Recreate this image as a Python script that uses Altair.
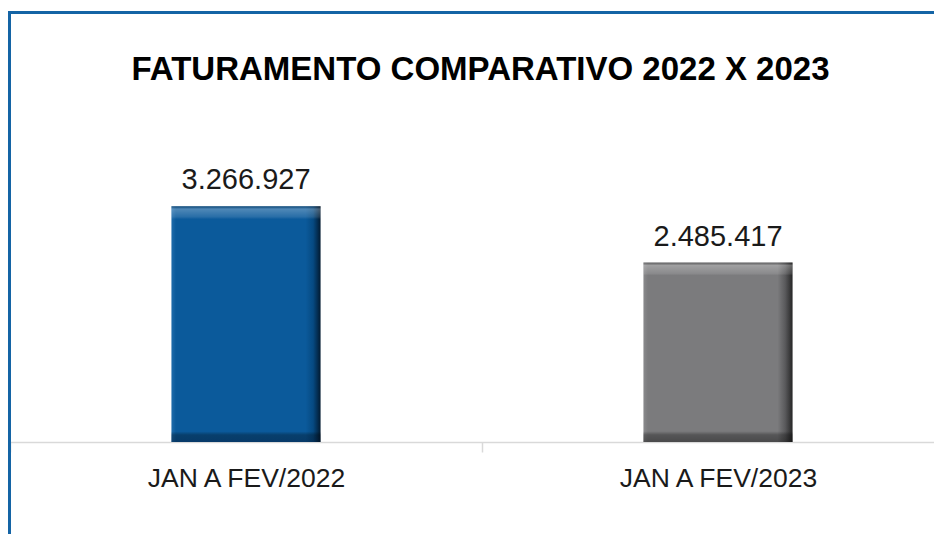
import altair as alt
import pandas as pd

title_text = "FATURAMENTO COMPARATIVO 2022 X 2023"
categories = ["JAN A FEV/2022", "JAN A FEV/2023"]
values = [3266927, 2485417]
value_labels = [f"{v:,}".replace(",", ".") for v in values]

df = pd.DataFrame({"cat": categories, "val": values, "lbl": value_labels})

FONT = "Liberation Sans"

x_enc = alt.X(
    "cat:N",
    sort=categories,
    scale=alt.Scale(domain=categories, range=[0, 944], paddingInner=0, paddingOuter=0),
    axis=alt.Axis(
        title=None,
        labelAngle=0,
        labelFont=FONT,
        labelFontSize=26.5,
        labelColor="#1a1a1a",
        labelPadding=13,
        labelLimit=600,
        tickBand="extent",
        tickSize=10,
        tickColor="#d9d9d9",
        tickWidth=1.5,
        domainColor="#d9d9d9",
        domainWidth=1.5,
        grid=False,
    ),
)
y_enc = alt.Y("val:Q", scale=alt.Scale(domain=[0, 4600000], nice=False), axis=None)

base = alt.Chart(df)

bar_styles = [
    {
        "h": [("#1f6cab", 0), ("#0b5a9b", 0.03), ("#0b5a9b", 0.9), ("#064a82", 0.95), ("#021a30", 1)],
        "v": [("rgba(0,0,0,0.25)", 0), ("rgba(255,255,255,0.28)", 0.012),
              ("rgba(255,255,255,0.12)", 0.045), ("rgba(255,255,255,0)", 0.055),
              ("rgba(0,0,0,0)", 0.955), ("rgba(0,0,0,0.3)", 0.97), ("rgba(0,10,30,0.4)", 1)],
    },
    {
        "h": [("#8a8a8c", 0), ("#7b7b7d", 0.03), ("#7b7b7d", 0.9), ("#5a5a5c", 0.95), ("#262626", 1)],
        "v": [("rgba(0,0,0,0.2)", 0), ("rgba(255,255,255,0.28)", 0.016),
              ("rgba(255,255,255,0.12)", 0.06), ("rgba(255,255,255,0)", 0.072),
              ("rgba(0,0,0,0)", 0.94), ("rgba(0,0,0,0.3)", 0.96), ("rgba(0,0,0,0.4)", 1)],
    },
]

layers = []
for cat, st in zip(categories, bar_styles):
    hg = alt.Gradient(
        gradient="linear",
        stops=[alt.GradientStop(color=c, offset=o) for c, o in st["h"]],
        x1=0, x2=1, y1=0, y2=0,
    )
    vg = alt.Gradient(
        gradient="linear",
        stops=[alt.GradientStop(color=c, offset=o) for c, o in st["v"]],
        x1=0, x2=0, y1=0, y2=1,
    )
    f = base.transform_filter(alt.datum.cat == cat)
    layers.append(f.mark_bar(width=alt.RelativeBandSize(0.316), fill=hg).encode(x=x_enc, y=y_enc))
    layers.append(f.mark_bar(width=alt.RelativeBandSize(0.316), fill=vg).encode(x=x_enc, y=y_enc))

text = base.mark_text(
    font=FONT, fontSize=29, color="#1a1a1a", baseline="alphabetic", dy=-17
).encode(x=x_enc, y=y_enc, text="lbl:N")

deco = alt.Chart(alt.Data(values=[{"t": title_text}]))

frame = deco.mark_rect(
    fillOpacity=0, stroke="#1464a5", strokeWidth=3
).encode(
    x=alt.value(-0.5), x2=alt.value(1000), y=alt.value(-97.5), y2=alt.value(700)
)

title = deco.mark_text(
    font=FONT, fontSize=33, fontWeight="bold", color="#000000",
    align="center", baseline="alphabetic",
).encode(x=alt.value(470.5), y=alt.value(-30), text="t:N")

chart = alt.layer(*layers, text, frame, title).properties(
    width=924,
    height=332,
    autosize=alt.AutoSizeParams(type="none"),
    padding={"left": 2, "top": 102, "right": 0, "bottom": 92},
).configure_view(stroke=None)

chart.save("out.html", embed_options={"renderer": "svg", "actions": False})
